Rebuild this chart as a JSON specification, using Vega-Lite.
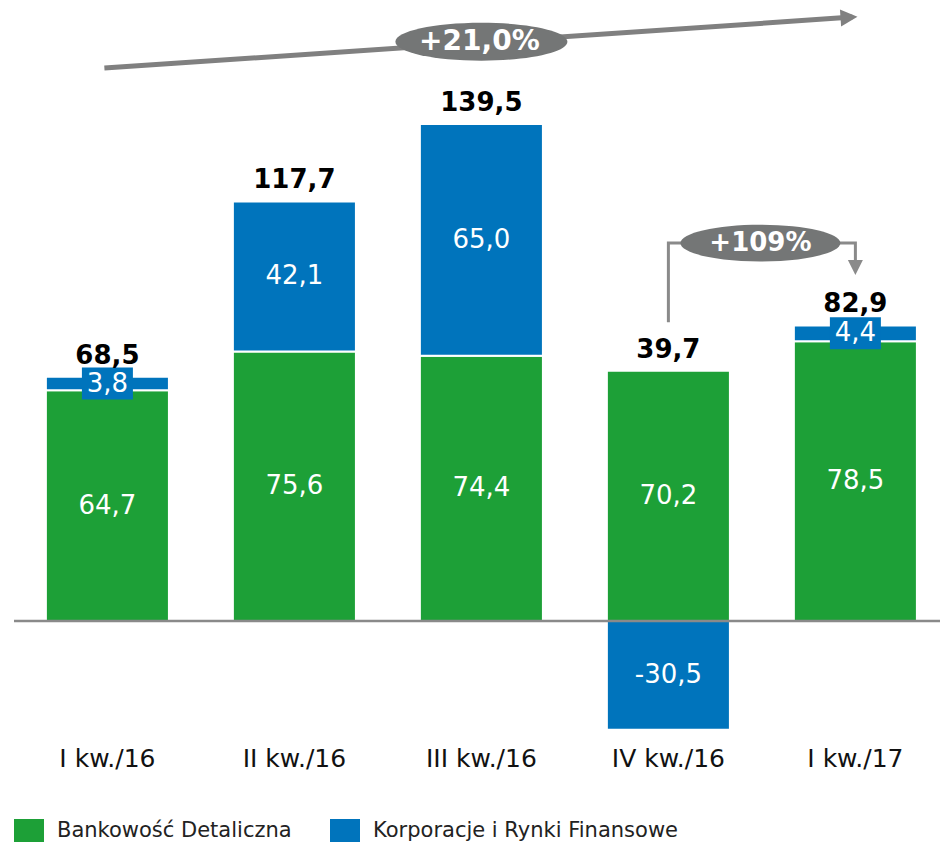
{
  "$schema": "https://vega.github.io/schema/vega-lite/v6.json",
  "width": 926,
  "height": 740,
  "autosize": {"type": "none"},
  "padding": {"left": 14, "top": 0, "right": 0, "bottom": 102},
  "config": {
    "view": {"stroke": null},
    "font": "DejaVu Sans",
    "locale": {"number": {"decimal": ",", "thousands": " ", "grouping": [3], "currency": ["", " zł"], "minus": "-"}},
    "axisX": {"domain": false, "ticks": false, "grid": false, "labelFontSize": 25, "labelPadding": 6, "labelAngle": 0, "labelColor": "#111111", "labelFont": "DejaVu Sans"}
  },
  "datasets": {
    "segs": [
      {"q": "I kw./16", "series": "Bankowość Detaliczna", "ord": 1, "value": 64.7},
      {"q": "I kw./16", "series": "Korporacje i Rynki Finansowe", "ord": 2, "value": 3.8},
      {"q": "II kw./16", "series": "Bankowość Detaliczna", "ord": 1, "value": 75.6},
      {"q": "II kw./16", "series": "Korporacje i Rynki Finansowe", "ord": 2, "value": 42.1},
      {"q": "III kw./16", "series": "Bankowość Detaliczna", "ord": 1, "value": 74.4},
      {"q": "III kw./16", "series": "Korporacje i Rynki Finansowe", "ord": 2, "value": 65.0},
      {"q": "IV kw./16", "series": "Bankowość Detaliczna", "ord": 1, "value": 70.2},
      {"q": "IV kw./16", "series": "Korporacje i Rynki Finansowe", "ord": 2, "value": -30.5},
      {"q": "I kw./17", "series": "Bankowość Detaliczna", "ord": 1, "value": 78.5},
      {"q": "I kw./17", "series": "Korporacje i Rynki Finansowe", "ord": 2, "value": 4.4}
    ],
    "totals": [
      {"q": "I kw./16", "total": 68.5},
      {"q": "II kw./16", "total": 117.7},
      {"q": "III kw./16", "total": 139.5},
      {"q": "IV kw./16", "total": 39.7},
      {"q": "I kw./17", "total": 82.9}
    ],
    "trend": [
      {"q": "I kw./16", "v": 155.1, "i": 1},
      {"q": "I kw./17", "v": 169.4, "i": 2}
    ],
    "trendHead": [{"q": "I kw./17", "v": 169.4}],
    "trendLabel": [{"q": "III kw./16", "v": 162.5, "label": "+21,0%"}],
    "bracket": [
      {"q": "IV kw./16", "v": 83.8, "i": 1},
      {"q": "IV kw./16", "v": 106, "i": 2},
      {"q": "I kw./17", "v": 106, "i": 3},
      {"q": "I kw./17", "v": 98.3, "i": 4}
    ],
    "bracketHead": [{"q": "I kw./17", "v": 98.3}],
    "qoqLabel": [{"q": "IV kw./16", "v": 106, "label": "+109%"}]
  },
  "layer": [
    {
      "data": {"name": "segs"},
      "transform": [
        {"stack": "value", "groupby": ["q"], "sort": [{"field": "ord"}], "as": ["v0", "v1"]}
      ],
      "mark": {"type": "bar", "stroke": "white", "strokeWidth": 2},
      "encoding": {
        "x": {"field": "q", "type": "nominal", "title": null, "sort": ["I kw./16", "II kw./16", "III kw./16", "IV kw./16", "I kw./17"], "scale": {"paddingInner": 0.342, "paddingOuter": 0.147, "align": 0.58}},
        "y": {"field": "v0", "type": "quantitative", "scale": {"domain": [-33.4, 174.2], "nice": false, "zero": false}, "axis": null},
        "y2": {"field": "v1"},
        "color": {
          "field": "series", "type": "nominal",
          "scale": {"domain": ["Bankowość Detaliczna", "Korporacje i Rynki Finansowe"], "range": ["#1DA037", "#0074BC"]},
          "legend": {"title": null, "orient": "none", "legendX": 0, "legendY": 816, "direction": "horizontal", "symbolType": "M-1,-0.8H1V0.8H-1Z", "symbolSize": 900, "symbolStrokeWidth": 0, "symbolOpacity": 1, "labelFontSize": 21, "labelFont": "DejaVu Sans", "labelColor": "#222222", "labelOffset": 13, "labelLimit": 500, "columnPadding": 38, "padding": 0}
        }
      }
    },
    {
      "data": {"name": "segs"},
      "transform": [
        {"stack": "value", "groupby": ["q"], "sort": [{"field": "ord"}], "as": ["v0", "v1"]},
        {"calculate": "(datum.v0 + datum.v1) / 2", "as": "mid"},
        {"filter": "datum.ord == 2 && abs(datum.value) < 10"}
      ],
      "mark": {"type": "point", "shape": "M-1,-0.627H1V0.627H-1Z", "size": 2601, "filled": true, "color": "#0074BC", "opacity": 1, "strokeWidth": 0},
      "encoding": {
        "x": {"field": "q", "type": "nominal", "title": null, "sort": ["I kw./16", "II kw./16", "III kw./16", "IV kw./16", "I kw./17"]},
        "y": {"field": "mid", "type": "quantitative", "axis": null}
      }
    },
    {
      "data": {"name": "segs"},
      "transform": [
        {"stack": "value", "groupby": ["q"], "sort": [{"field": "ord"}], "as": ["v0", "v1"]},
        {"calculate": "(datum.v0 + datum.v1) / 2", "as": "mid"}
      ],
      "mark": {"type": "text", "color": "white", "fontSize": 26, "baseline": "middle", "align": "center", "font": "DejaVu Sans"},
      "encoding": {
        "x": {"field": "q", "type": "nominal", "title": null, "sort": ["I kw./16", "II kw./16", "III kw./16", "IV kw./16", "I kw./17"]},
        "y": {"field": "mid", "type": "quantitative", "axis": null},
        "text": {"field": "value", "type": "quantitative", "format": ".1f"}
      }
    },
    {
      "data": {"name": "segs"},
      "transform": [
        {"filter": "datum.value > 0"},
        {"aggregate": [{"op": "sum", "field": "value", "as": "top"}], "groupby": ["q"]},
        {"lookup": "q", "from": {"data": {"name": "totals"}, "key": "q", "fields": ["total"]}}
      ],
      "mark": {"type": "text", "color": "black", "fontSize": 26, "fontWeight": "bold", "baseline": "alphabetic", "align": "center", "dy": -13, "font": "DejaVu Sans"},
      "encoding": {
        "x": {"field": "q", "type": "nominal", "title": null, "sort": ["I kw./16", "II kw./16", "III kw./16", "IV kw./16", "I kw./17"]},
        "y": {"field": "top", "type": "quantitative", "axis": null},
        "text": {"field": "total", "type": "quantitative", "format": ".1f"}
      }
    },
    {
      "data": {"values": [{}]},
      "mark": {"type": "rule", "color": "#8A8A8A", "strokeWidth": 2.5},
      "encoding": {"y": {"datum": 0, "type": "quantitative", "axis": null}}
    },
    {
      "data": {"name": "trend"},
      "mark": {"type": "line", "color": "#808080", "strokeWidth": 5, "strokeCap": "butt", "xOffset": -3},
      "encoding": {
        "x": {"field": "q", "type": "nominal", "title": null, "sort": ["I kw./16", "II kw./16", "III kw./16", "IV kw./16", "I kw./17"]},
        "y": {"field": "v", "type": "quantitative", "axis": null},
        "order": {"field": "i", "type": "quantitative"}
      }
    },
    {
      "data": {"name": "trendHead"},
      "mark": {"type": "point", "shape": "M0.6,0L-1.4,-1L-1.4,1Z", "size": 289, "filled": true, "color": "#808080", "opacity": 1, "strokeWidth": 0, "angle": -3.9, "xOffset": -3},
      "encoding": {
        "x": {"field": "q", "type": "nominal", "title": null, "sort": ["I kw./16", "II kw./16", "III kw./16", "IV kw./16", "I kw./17"]},
        "y": {"field": "v", "type": "quantitative", "axis": null}
      }
    },
    {
      "data": {"name": "trendLabel"},
      "mark": {"type": "point", "shape": "M-1,0A1,0.22,0,1,0,1,0A1,0.22,0,1,0,-1,0Z", "size": 29584, "filled": true, "color": "#747676", "opacity": 1, "strokeWidth": 0},
      "encoding": {
        "x": {"field": "q", "type": "nominal", "title": null, "sort": ["I kw./16", "II kw./16", "III kw./16", "IV kw./16", "I kw./17"]},
        "y": {"field": "v", "type": "quantitative", "axis": null}
      }
    },
    {
      "data": {"name": "trendLabel"},
      "mark": {"type": "text", "color": "white", "fontSize": 28, "fontWeight": "bold", "baseline": "middle", "align": "center", "font": "DejaVu Sans", "dx": -2},
      "encoding": {
        "x": {"field": "q", "type": "nominal", "title": null, "sort": ["I kw./16", "II kw./16", "III kw./16", "IV kw./16", "I kw./17"]},
        "y": {"field": "v", "type": "quantitative", "axis": null},
        "text": {"field": "label", "type": "nominal"}
      }
    },
    {
      "data": {"name": "bracket"},
      "mark": {"type": "line", "color": "#8A8A8A", "strokeWidth": 3, "strokeCap": "butt", "strokeJoin": "miter"},
      "encoding": {
        "x": {"field": "q", "type": "nominal", "title": null, "sort": ["I kw./16", "II kw./16", "III kw./16", "IV kw./16", "I kw./17"]},
        "y": {"field": "v", "type": "quantitative", "axis": null},
        "order": {"field": "i", "type": "quantitative"}
      }
    },
    {
      "data": {"name": "bracketHead"},
      "mark": {"type": "point", "shape": "M0.6,0L-1.4,-1L-1.4,1Z", "size": 225, "filled": true, "color": "#8A8A8A", "opacity": 1, "strokeWidth": 0, "angle": 90},
      "encoding": {
        "x": {"field": "q", "type": "nominal", "title": null, "sort": ["I kw./16", "II kw./16", "III kw./16", "IV kw./16", "I kw./17"]},
        "y": {"field": "v", "type": "quantitative", "axis": null}
      }
    },
    {
      "data": {"name": "qoqLabel"},
      "mark": {"type": "point", "shape": "M-1,0A1,0.23,0,1,0,1,0A1,0.23,0,1,0,-1,0Z", "size": 25600, "filled": true, "color": "#747676", "opacity": 1, "strokeWidth": 0, "xOffset": 92},
      "encoding": {
        "x": {"field": "q", "type": "nominal", "title": null, "sort": ["I kw./16", "II kw./16", "III kw./16", "IV kw./16", "I kw./17"]},
        "y": {"field": "v", "type": "quantitative", "axis": null}
      }
    },
    {
      "data": {"name": "qoqLabel"},
      "mark": {"type": "text", "color": "white", "fontSize": 26, "fontWeight": "bold", "baseline": "middle", "align": "center", "font": "DejaVu Sans", "dx": 92},
      "encoding": {
        "x": {"field": "q", "type": "nominal", "title": null, "sort": ["I kw./16", "II kw./16", "III kw./16", "IV kw./16", "I kw./17"]},
        "y": {"field": "v", "type": "quantitative", "axis": null},
        "text": {"field": "label", "type": "nominal"}
      }
    }
  ]
}
